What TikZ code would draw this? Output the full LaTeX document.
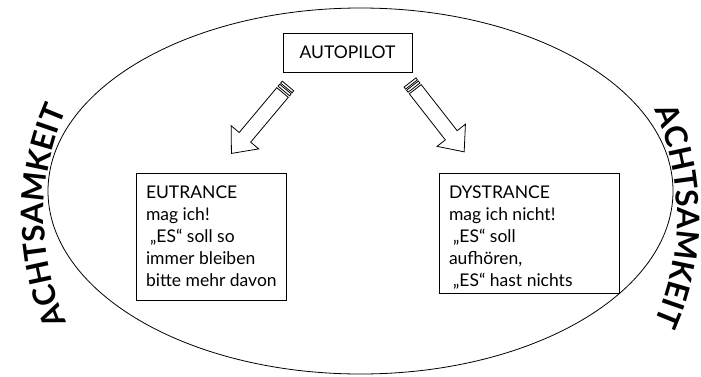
\documentclass[tikz,border=0pt]{standalone}
\usepackage{fontspec}
\setmainfont{Lato}
\usetikzlibrary{decorations.text}

\tikzset{
    textbox/.style={draw, line width=0.8pt, inner sep=0pt, font=\fontsize{17.5}{22}\selectfont},
    stripearrow/.style={draw, line width=0.8pt, fill=white, line join=miter},
    curvetext/.style={decorate, decoration={text along path, text align=center,
        text={|\fontsize{31}{31}\selectfont\bfseries|ACHTSAMKEIT}}}
}

\begin{document}
\begin{tikzpicture}[x=1pt, y=1pt, line cap=round]
    \useasboundingbox (0,0) rectangle (701,376);

    \draw [line width=0.8pt] (360.5,185) ellipse (312.5 and 183);

    \node [textbox, minimum width=129pt, minimum height=39pt] (autopilot) at (347.5,323.5) {AUTOPILOT};
    \node [textbox, inner xsep=10pt, inner ysep=13pt] (eutrance) at (211,139.5)
        {\parbox[c][101pt][t]{130pt}{\raggedright EUTRANCE\\ mag ich!\\ \hspace*{4pt}„ES“ soll so\\ \mbox{immer bleiben}\\ \mbox{bitte mehr davon}}};
    \node [textbox, inner xsep=10pt, inner ysep=13pt] (dystrance) at (529,143)
        {\parbox[c][94pt][t]{160pt}{\raggedright DYSTRANCE\\ mag ich nicht!\\ \hspace*{4pt}„ES“ soll\\ aufhören,\\ \hspace*{4pt}„ES“ hast nichts}};

    % striped arrows
    \begin{scope}[shift={(288,290)}, rotate=230]
        \draw [stripearrow] (0,-7.5) rectangle (2.5,7.5);
        \draw [stripearrow] (4,-7.5) rectangle (6.5,7.5);
        \draw [stripearrow] (8.5,-7.5) -- (67,-7.5) -- (67,-18) -- (88,0) -- (67,18) -- (67,7.5) -- (8.5,7.5) -- cycle;
    \end{scope}
    \begin{scope}[shift={(410,293.5)}, rotate=-52]
        \draw [stripearrow] (0,-7.5) rectangle (2.5,7.5);
        \draw [stripearrow] (4,-7.5) rectangle (6.5,7.5);
        \draw [stripearrow] (8.5,-7.5) -- (67,-7.5) -- (67,-18) -- (88,0) -- (67,18) -- (67,7.5) -- (8.5,7.5) -- cycle;
    \end{scope}

    \path [curvetext] (68.4,50.1) arc (205:155:260);
    \path [curvetext] (652.6,269.9) arc (25:-25:260);

\end{tikzpicture}
\end{document}
